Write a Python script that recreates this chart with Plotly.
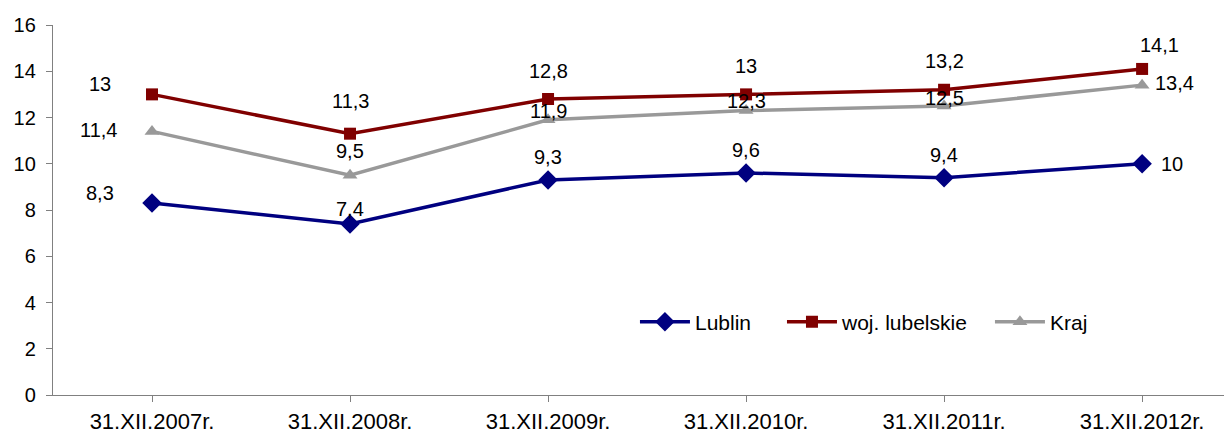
import plotly.graph_objects as go

categories = ["31.XII.2007r.", "31.XII.2008r.", "31.XII.2009r.", "31.XII.2010r.", "31.XII.2011r.", "31.XII.2012r."]
lublin = [8.3, 7.4, 9.3, 9.6, 9.4, 10.0]
woj = [13.0, 11.3, 12.8, 13.0, 13.2, 14.1]
kraj = [11.4, 9.5, 11.9, 12.3, 12.5, 13.4]
lublin_labels = ["8,3", "7,4", "9,3", "9,6", "9,4", "10"]
woj_labels = ["13", "11,3", "12,8", "13", "13,2", "14,1"]
kraj_labels = ["11,4", "9,5", "11,9", "12,3", "12,5", "13,4"]
y_ticks = [0, 2, 4, 6, 8, 10, 12, 14, 16]

FONT = "Liberation Sans, Arial, sans-serif"
C_LUB = "#000080"
C_WOJ = "#800000"
C_KRAJ = "#999999"

idx = list(range(len(categories)))

fig = go.Figure()
fig.add_trace(go.Scatter(x=idx, y=lublin, name="Lublin", mode="lines+markers",
                         line=dict(color=C_LUB, width=3.5), legend="legend",
                         marker=dict(symbol="diamond", size=15, color=C_LUB)))
fig.add_trace(go.Scatter(x=idx, y=woj, name="woj. lubelskie", mode="lines+markers",
                         line=dict(color=C_WOJ, width=3.5), legend="legend2",
                         marker=dict(symbol="square", size=12, color=C_WOJ)))
fig.add_trace(go.Scatter(x=idx, y=kraj, name="Kraj", mode="lines+markers",
                         line=dict(color=C_KRAJ, width=3.5), legend="legend3",
                         marker=dict(symbol="triangle-up", size=13, color=C_KRAJ)))

# label offsets (pixels)
lub_off = [(-52, 10), (0, 15), (0, 23), (0, 23), (0, 23), (30, 0)]
woj_off = [(-52, 10), (0, 33), (0, 28), (0, 28), (0, 29), (17, 24)]
kraj_off = [(-54, 1), (0, 24), (0, 9), (0, 10), (0, 8), (32, 2)]

annotations = []
for vals, labs, offs in [(lublin, lublin_labels, lub_off), (woj, woj_labels, woj_off), (kraj, kraj_labels, kraj_off)]:
    for i, (v, t, (dx, dy)) in enumerate(zip(vals, labs, offs)):
        annotations.append(dict(x=i, y=v, xref="x", yref="y", text=t, showarrow=False,
                                xshift=dx, yshift=dy, xanchor="center", yanchor="middle",
                                font=dict(family=FONT, size=20, color="#000000")))

def leg(x):
    return dict(orientation="h", x=x, y=0.197, xanchor="left", yanchor="middle",
                font=dict(family=FONT, size=21, color="#000000"),
                bgcolor="rgba(0,0,0,0)", itemwidth=50)

fig.update_layout(
    template="none",
    width=1224, height=427,
    margin=dict(l=45, r=0, t=17, b=40),
    paper_bgcolor="white", plot_bgcolor="white",
    font=dict(family=FONT, size=20, color="#000000"),
    showlegend=True,
    legend=leg(0.4936),
    legend2=leg(0.6183),
    legend3=leg(0.7947),
    annotations=annotations,
)
fig.update_xaxes(
    automargin=False,
    tickmode="array", tickvals=idx, ticktext=categories,
    range=[-0.5, 5.454], showgrid=False, zeroline=False,
    showline=True, linecolor="#808080", linewidth=1.3,
    ticks="outside", ticklen=6, tickcolor="#808080", tickson="boundaries",
    tickfont=dict(family=FONT, size=22, color="#000000"),
)
fig.update_yaxes(
    automargin=False,
    range=[0, 16], tickvals=y_ticks, showgrid=False, zeroline=False,
    showline=True, linecolor="#808080", linewidth=1.3,
    ticks="outside", ticklen=6, tickcolor="#808080",
    ticklabelstandoff=6,
    tickfont=dict(family=FONT, size=20, color="#000000"),
)

fig.write_html("out.html")
